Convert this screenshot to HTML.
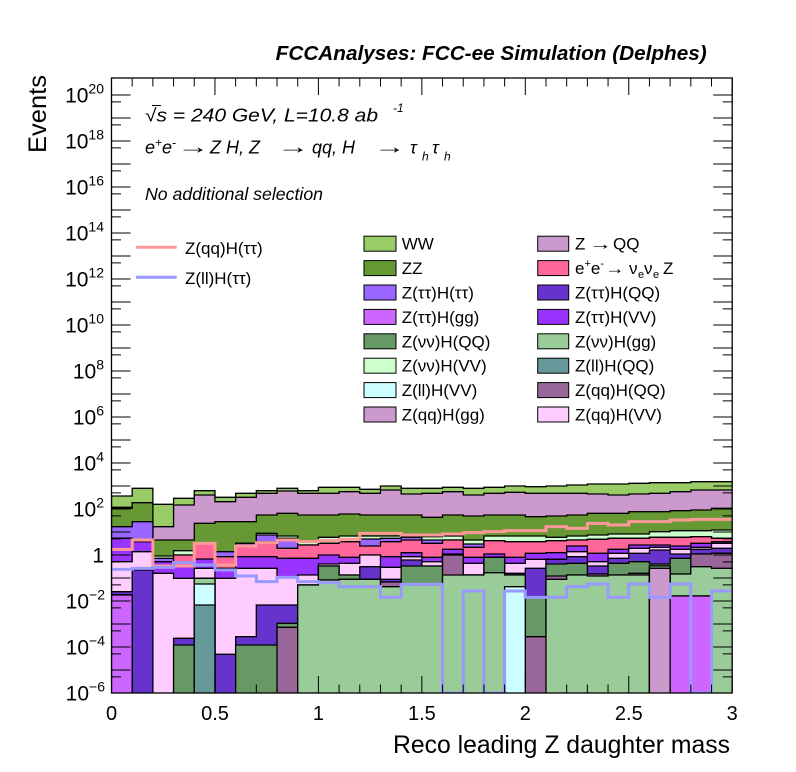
<!DOCTYPE html>
<html><head><meta charset="utf-8">
<style>
html,body{margin:0;padding:0;background:#fff;}
svg{display:block;}
text{font-family:"Liberation Sans",Arial,sans-serif;fill:#000;}
</style></head>
<body>
<svg id="c" width="796" height="772" viewBox="0 0 796 772" xmlns="http://www.w3.org/2000/svg">
<defs><clipPath id="fr"><rect x="111.5" y="78" width="620.7" height="615"/></clipPath></defs>
<rect width="796" height="772" fill="#fff"/>
<g id="hist" clip-path="url(#fr)"></g>
<g id="sig" clip-path="url(#fr)"></g>
<g id="axes"></g>

<!-- Title -->
<text x="275.7" y="60" font-weight="bold" font-style="italic" font-size="20" textLength="431" lengthAdjust="spacingAndGlyphs">FCCAnalyses: FCC-ee Simulation (Delphes)</text>

<!-- Info text -->
<text x="145" y="121.7" font-style="italic" font-size="18" textLength="233" lengthAdjust="spacingAndGlyphs">√s = 240 GeV, L=10.8 ab</text>
<line x1="152" y1="105.5" x2="161" y2="105.5" stroke="#000" stroke-width="1"/>
<text x="393" y="112" font-style="italic" font-size="12">-1</text>

<text y="153.3" font-style="italic" font-size="18"><tspan x="145">e</tspan><tspan font-size="12" dy="-7">+</tspan><tspan dy="7">e</tspan><tspan font-size="12" dy="-7">-</tspan><tspan dy="7" x="210">Z H, Z</tspan><tspan x="312">qq, H</tspan><tspan x="410">τ</tspan><tspan font-size="12" dy="7" x="422">h</tspan><tspan dy="-7" x="432">τ</tspan><tspan font-size="12" dy="7" x="444">h</tspan></text>
<text transform="translate(177,153.5) scale(1.8,1.1)" font-size="18">→</text>
<text transform="translate(277,153.5) scale(1.8,1.1)" font-size="18">→</text>
<text transform="translate(374,153.5) scale(1.75,1.1)" font-size="18">→</text>

<text x="145" y="200" font-style="italic" font-size="17.5" textLength="178" lengthAdjust="spacingAndGlyphs">No additional selection</text>

<!-- Left legend -->
<line x1="136" y1="247.3" x2="176.7" y2="247.3" stroke="#ff9999" stroke-width="3"/>
<text x="185" y="254" font-size="17">Z(qq)H(ττ)</text>
<line x1="136" y1="277.3" x2="176.7" y2="277.3" stroke="#9999ff" stroke-width="3"/>
<text x="185" y="284" font-size="17">Z(ll)H(ττ)</text>

<!-- Right legend -->
<g stroke="#000" stroke-width="1">
<rect x="364" y="236.2" width="32" height="15" fill="#99cc66"/>
<rect x="364" y="260.6" width="32" height="15" fill="#669933"/>
<rect x="364" y="285" width="32" height="15" fill="#9966ff"/>
<rect x="364" y="309.4" width="32" height="15" fill="#cc66ff"/>
<rect x="364" y="333.8" width="32" height="15" fill="#669966"/>
<rect x="364" y="358.2" width="32" height="15" fill="#ccffcc"/>
<rect x="364" y="382.6" width="32" height="15" fill="#ccffff"/>
<rect x="364" y="407" width="32" height="15" fill="#cc99cc"/>
<rect x="537.7" y="236.2" width="31" height="15" fill="#cc99cc"/>
<rect x="537.7" y="260.6" width="31" height="15" fill="#ff6699"/>
<rect x="537.7" y="285" width="31" height="15" fill="#6633cc"/>
<rect x="537.7" y="309.4" width="31" height="15" fill="#9933ff"/>
<rect x="537.7" y="333.8" width="31" height="15" fill="#99cc99"/>
<rect x="537.7" y="358.2" width="31" height="15" fill="#669999"/>
<rect x="537.7" y="382.6" width="31" height="15" fill="#996699"/>
<rect x="537.7" y="407" width="31" height="15" fill="#ffccff"/>
</g>
<g font-size="17">
<text x="401.7" y="249.7">WW</text>
<text x="401.7" y="274.1">ZZ</text>
<text x="401.7" y="298.5">Z(ττ)H(ττ)</text>
<text x="401.7" y="322.9">Z(ττ)H(gg)</text>
<text x="401.7" y="347.3">Z(νν)H(QQ)</text>
<text x="401.7" y="371.7">Z(νν)H(VV)</text>
<text x="401.7" y="396.1">Z(ll)H(VV)</text>
<text x="401.7" y="420.5">Z(qq)H(gg)</text>
<text y="249.7"><tspan x="575">Z</tspan><tspan x="613">QQ</tspan></text>
<text transform="translate(589,249.7) scale(1.35,1)" font-size="17">→</text>
<text y="274.1"><tspan x="575">e</tspan><tspan font-size="11" dy="-7">+</tspan><tspan dy="7">e</tspan><tspan font-size="11" dy="-7">-</tspan><tspan x="629" dy="7">ν</tspan><tspan font-size="11" dy="4" x="638">e</tspan><tspan dy="-4" x="644">ν</tspan><tspan font-size="11" dy="4" x="653">e</tspan><tspan dy="-4" x="663">Z</tspan></text>
<text transform="translate(605,274.1) scale(1.15,1)" font-size="17">→</text>
<text x="575" y="298.5">Z(ττ)H(QQ)</text>
<text x="575" y="322.9">Z(ττ)H(VV)</text>
<text x="575" y="347.3">Z(νν)H(gg)</text>
<text x="575" y="371.7">Z(ll)H(QQ)</text>
<text x="575" y="396.1">Z(qq)H(QQ)</text>
<text x="575" y="420.5">Z(qq)H(VV)</text>
</g>

<!-- Y tick labels -->
<g font-size="21" text-anchor="end">
<text x="104" y="102.5">10<tspan font-size="14" dy="-9">20</tspan></text>
<text x="104" y="148.5">10<tspan font-size="14" dy="-9">18</tspan></text>
<text x="104" y="194.5">10<tspan font-size="14" dy="-9">16</tspan></text>
<text x="104" y="240.5">10<tspan font-size="14" dy="-9">14</tspan></text>
<text x="104" y="286.5">10<tspan font-size="14" dy="-9">12</tspan></text>
<text x="104" y="332.5">10<tspan font-size="14" dy="-9">10</tspan></text>
<text x="104" y="378.5">10<tspan font-size="14" dy="-9">8</tspan></text>
<text x="104" y="424.5">10<tspan font-size="14" dy="-9">6</tspan></text>
<text x="104" y="470.5">10<tspan font-size="14" dy="-9">4</tspan></text>
<text x="104" y="516.5">10<tspan font-size="14" dy="-9">2</tspan></text>
<text x="104" y="562.5">1</text>
<text x="105" y="608.5">10<tspan font-size="14" dy="-9">−2</tspan></text>
<text x="105" y="654.5">10<tspan font-size="14" dy="-9">−4</tspan></text>
<text x="105" y="700.5">10<tspan font-size="14" dy="-9">−6</tspan></text>
</g>

<!-- X tick labels -->
<g font-size="20" text-anchor="middle">
<text x="111.5" y="720">0</text>
<text x="215" y="720">0.5</text>
<text x="318.4" y="720">1</text>
<text x="421.9" y="720">1.5</text>
<text x="525.3" y="720">2</text>
<text x="628.8" y="720">2.5</text>
<text x="732.2" y="720">3</text>
</g>

<text x="730" y="753" text-anchor="end" font-size="24.7" textLength="337" lengthAdjust="spacingAndGlyphs">Reco leading Z daughter mass</text>
<text transform="translate(46,75) rotate(-90)" text-anchor="end" font-size="24.7" textLength="78" lengthAdjust="spacingAndGlyphs">Events</text>
</svg>
<script>
(function(){
const NS='http://www.w3.org/2000/svg';
function el(tag,attrs,parent){const e=document.createElementNS(NS,tag);for(const k in attrs)e.setAttribute(k,attrs[k]);parent.appendChild(e);return e;}
const L=111.5,R=732.2,T=78,B=693,W=(R-L)/30;
const X=i=>L+i*W;
const zy=v=>Math.min(B+2,460+v/3);
const cols=['#cc99cc','#cc66ff','#669999','#ccffff','#99cc99','#996699','#669966','#6633cc','#ffccff','#9933ff','#ff6699','#9966ff','#ccffcc','#669933','#cc99cc','#99cc66'];
const D=[
[[1,405],[7,395],[8,305],[9,235],[11,200],[13,145],[14,142],[15,108]],
[[7,330],[8,275],[9,245],[11,185],[13,128],[15,85]],
[[8,340],[9,305],[11,295],[12,288],[13,240],[14,200],[15,133]],
[[6,555],[7,535],[8,355],[9,320],[10,285],[12,272],[13,240],[14,135],[15,115]],
[[2,435],[3,372],[4,355],[8,325],[9,297],[10,250],[13,190],[14,105],[15,92]],
[[7,583],[8,355],[9,325],[10,290],[11,275],[13,185],[14,125],[15,112]],
[[6,555],[7,530],[8,325],[9,290],[10,255],[11,250],[13,185],[14,112],[15,100]],
[[6,555],[7,435],[8,325],[9,290],[10,245],[11,225],[12,220],[13,165],[14,100],[15,92]],
[[5,502],[6,490],[7,435],[8,350],[9,295],[10,265],[11,235],[12,228],[13,160],[14,93],[15,85]],
[[4,375],[8,345],[9,295],[10,255],[12,245],[13,165],[14,100],[15,92]],
[[4,360],[6,318],[8,312],[9,285],[10,250],[12,232],[13,165],[14,100],[15,82]],
[[4,358],[6,345],[8,310],[9,292],[10,245],[12,228],[13,162],[14,95],[15,82]],
[[4,358],[7,320],[8,285],[10,258],[11,237],[12,228],[13,165],[14,100],[15,88]],
[[4,380],[5,366],[7,358],[8,322],[9,290],[10,245],[11,235],[12,228],[13,165],[14,90],[15,78]],
[[4,375],[6,318],[7,300],[8,290],[9,278],[10,240],[11,232],[13,165],[14,102],[15,85]],
[[4,375],[6,318],[8,305],[9,292],[10,250],[11,240],[12,230],[13,172],[14,100],[15,85]],
[[4,345],[5,285],[8,282],[9,268],[10,240],[12,228],[13,165],[14,95],[15,82]],
[[4,345],[8,310],[9,292],[10,262],[11,252],[12,240],[13,168],[14,105],[15,85]],
[[4,338],[6,292],[9,282],[10,242],[12,228],[13,165],[14,100],[15,82]],
[[3,380],[4,345],[7,340],[8,310],[9,292],[10,245],[12,228],[13,165],[14,97],[15,78]],
[[5,530],[6,410],[7,325],[8,298],[9,280],[10,245],[12,228],[13,170],[14,100],[15,80]],
[[4,358],[5,348],[6,312],[7,298],[9,278],[10,242],[12,232],[13,168],[14,100],[15,78]],
[[4,345],[6,310],[7,290],[8,275],[9,258],[10,240],[12,228],[13,165],[14,100],[15,75]],
[[4,348],[5,342],[7,318],[8,305],[9,280],[10,238],[12,225],[13,160],[14,102],[15,72]],
[[4,345],[6,310],[7,295],[8,280],[9,268],[10,235],[12,222],[13,160],[14,105],[15,72]],
[[4,345],[5,340],[6,305],[7,280],[8,265],[9,255],[10,235],[12,222],[13,155],[14,102],[15,70]],
[[0,325],[4,318],[6,312],[7,270],[8,262],[9,255],[10,232],[12,215],[13,155],[14,100],[15,68]],
[[1,408],[4,342],[6,295],[7,282],[8,268],[9,258],[10,232],[12,212],[13,152],[14,95],[15,68]],
[[1,408],[4,320],[5,282],[7,268],[8,262],[9,250],[10,230],[12,212],[13,150],[14,90],[15,65]],
[[4,325],[5,280],[7,265],[8,250],[9,245],[10,235],[12,210],[13,145],[14,90],[15,65]]
];
const hist=document.getElementById('hist');
const tops=D.map(bin=>{const m={};bin.forEach(p=>m[p[0]]=zy(p[1]));const t=[];let cur=B+2;for(let k=0;k<16;k++){if(m[k]!==undefined)cur=Math.min(cur,m[k]);t.push(cur);}return t;});
for(let k=15;k>=0;k--){
  let any=false;let d='M'+L+','+(B+2);
  for(let i=0;i<30;i++){const y=tops[i][k];if(y<B)any=true;d+=' L'+X(i).toFixed(2)+','+y.toFixed(2)+' L'+X(i+1).toFixed(2)+','+y.toFixed(2);}
  d+=' L'+R+','+(B+2)+' Z';
  if(any)el('path',{d:d,fill:cols[k],stroke:'#000','stroke-width':1.3},hist);
}
const sig=document.getElementById('sig');
function step(vals,color){let d='';for(let i=0;i<30;i++){const y=Math.min(B,zy(vals[i])).toFixed(2);d+=(i?' L':'M')+X(i).toFixed(2)+','+y+' L'+X(i+1).toFixed(2)+','+y;}el('path',{d:d,fill:'none',stroke:color,'stroke-width':3},sig);}
step([268,240,318,318,250,315,258,248,240,245,242,238,220,220,225,225,222,218,215,212,212,200,205,190,195,185,185,180,178,178],'#ff9999');
step([328,325,322,308,315,330,348,365,352,365,368,380,380,412,373,373,700,393,700,393,412,412,380,372,412,372,412,372,700,393],'#9999ff');
const ax=document.getElementById('axes');
let d='';
for(let n=-6;n<=20;n++){const y=B-23*(n+6);d+='M'+L+','+y+'h19M'+R+','+y+'h-19';if(n>-6){const ys=y+6.9;d+='M'+L+','+ys+'h9.5M'+R+','+ys+'h-9.5';}}
for(let j=0;j<=30;j++){const x=X(j);const len=(j%5===0)?17:8.5;d+='M'+x.toFixed(2)+','+B+'v-'+len+'M'+x.toFixed(2)+','+T+'v'+len;}
el('path',{d:d,stroke:'#000','stroke-width':1,fill:'none'},ax);
el('rect',{x:L,y:T,width:R-L,height:B-T,fill:'none',stroke:'#000','stroke-width':1.3},ax);
})();
</script>
</body></html>
